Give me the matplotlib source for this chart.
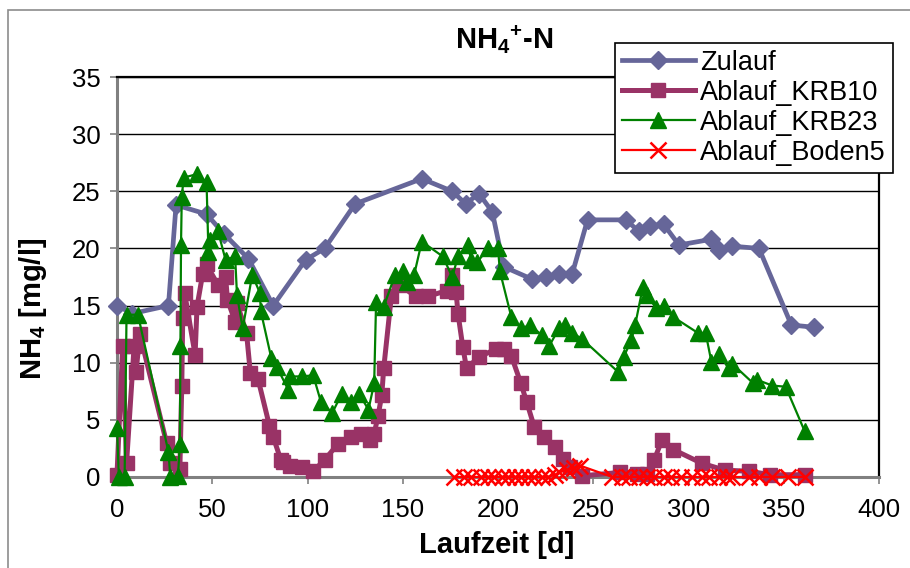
import matplotlib
matplotlib.use("Agg")
import matplotlib.pyplot as plt
from matplotlib.patches import Rectangle

plt.rcParams['font.family'] = ['Liberation Sans', 'DejaVu Sans']
plt.rcParams['mathtext.fontset'] = 'custom'
plt.rcParams['mathtext.rm'] = 'Liberation Sans'
plt.rcParams['mathtext.bf'] = 'Liberation Sans:bold'

# NH4-N over run time [d]
zulauf_t = [0, 8, 27, 31, 47, 56, 69, 82, 99, 109, 125, 160, 176, 183, 190, 197,
            203, 218, 225, 232, 239, 247, 267, 274, 280, 287, 295, 312, 316, 323,
            337, 354, 366]
zulauf_v = [15.0, 14.3, 15.0, 23.8, 23.0, 21.3, 19.1, 15.0, 19.0, 20.0, 23.9, 26.1,
            25.0, 23.9, 24.8, 23.2, 18.4, 17.3, 17.5, 17.8, 17.8, 22.5, 22.5, 21.5,
            22.0, 22.1, 20.3, 20.8, 19.9, 20.2, 20.0, 13.3, 13.1]

krb10_t = [0, 3, 5, 9, 10, 12, 26, 28, 33, 34, 34.5, 35.5, 41, 42, 45, 47, 53, 57,
           58, 62, 63, 68, 70, 74, 80, 82, 86, 87, 91, 97, 103, 109, 116, 123, 128,
           133, 135, 137, 139, 140, 144, 148, 157, 163, 173, 176, 178, 179, 181.5,
           183.5, 190, 199, 203, 207, 212, 215, 219, 224, 230, 234, 238, 244, 264,
           273, 278, 282, 286, 292, 307, 319, 332, 343, 361]
krb10_v = [0.2, 11.5, 1.2, 11.5, 9.2, 12.5, 3.0, 1.2, 0.7, 8.0, 13.9, 16.1, 10.7,
           14.9, 17.8, 18.6, 16.8, 17.5, 15.5, 13.6, 15.2, 12.6, 9.1, 8.6, 4.5, 3.5,
           1.5, 1.3, 1.0, 0.9, 0.5, 1.5, 2.9, 3.5, 3.8, 3.2, 3.8, 5.3, 7.2, 9.5, 15.8,
           16.8, 15.8, 15.8, 16.3, 17.7, 16.2, 14.3, 11.4, 9.5, 10.5, 11.2, 11.2,
           10.6, 8.2, 6.6, 4.4, 3.5, 2.6, 1.6, 0.9, 0.1, 0.4, 0.3, 0.3, 1.5, 3.2,
           2.4, 1.2, 0.6, 0.5, 0.2, 0.2]

krb23_t = [0, 1, 4, 5, 11, 27, 28, 32, 33, 33.3, 33.6, 34, 35, 42, 47, 48, 49, 53,
           57, 62, 63, 66, 71, 75, 75.5, 81, 84, 90, 91, 97, 103, 107, 113, 118, 123,
           127, 132, 135, 136, 140, 146, 150, 152, 156, 160, 171, 176, 179, 184, 186,
           189, 195, 200, 201, 207, 212, 217, 223, 227, 232, 235, 239, 244, 263, 266,
           270, 272, 276, 278, 283, 287, 292, 305, 309, 312, 316, 321, 323, 334, 336,
           344, 351, 361]
krb23_v = [4.3, 0.0, 0.0, 14.2, 14.2, 2.2, 0.0, 0.1, 2.9, 11.5, 20.3, 24.5, 26.2,
           26.5, 25.8, 19.7, 20.7, 21.5, 19.0, 19.3, 15.9, 13.0, 17.7, 16.1, 14.5,
           10.4, 9.6, 7.6, 8.8, 8.8, 8.9, 6.6, 5.6, 7.3, 6.6, 7.3, 5.9, 8.2, 15.3,
           14.9, 17.7, 18.0, 17.1, 17.7, 20.6, 19.3, 17.5, 19.3, 20.3, 19.0, 18.8,
           20.0, 20.0, 18.0, 14.0, 13.0, 13.3, 12.4, 11.5, 13.0, 13.3, 12.6, 12.1,
           9.2, 10.5, 12.0, 13.3, 16.6, 15.9, 14.8, 15.0, 14.0, 12.6, 12.6, 10.1,
           10.8, 9.5, 9.9, 8.2, 8.5, 8.0, 7.9, 4.0]

boden5_t = [177, 182, 186, 191, 195, 198, 202, 205, 209, 212, 216, 219, 223, 226,
            230, 232, 236, 240, 243, 260, 265, 269, 274, 278, 282, 287, 291, 296,
            302, 307, 311, 316, 320, 323, 332, 337, 344, 352, 361]
boden5_v = [0, 0, 0, 0, 0, 0, 0, 0, 0, 0, 0, 0, 0, 0, 0.2, 0.4, 0.6, 0.8, 1.0,
            0, 0, 0, 0, 0, 0, 0, 0, 0, 0, 0, 0, 0, 0, 0, 0, 0, 0, 0, 0]

fig = plt.figure(figsize=(9.1, 5.68), dpi=100)
fig.patches.append(Rectangle((8 / 910, -0.05), 1.2, 0.05 + 558 / 568,
                             transform=fig.transFigure, fill=False,
                             edgecolor='#8c8c8c', lw=1.2))

ax = fig.add_axes([117 / 910, 91 / 568, 762 / 910, 400 / 568])

ax.plot(zulauf_t, zulauf_v, color='#666699', lw=3.4, marker='D', ms=9,
        label='Zulauf', clip_on=False, zorder=3)
ax.plot(krb10_t, krb10_v, color='#993366', lw=3.6, marker='s', ms=9.5,
        label='Ablauf_KRB10', clip_on=False, zorder=4)
ax.plot(krb23_t, krb23_v, color='#008000', lw=1.6, marker='^', ms=11.5,
        label='Ablauf_KRB23', clip_on=False, zorder=5)
ax.plot(boden5_t, boden5_v, color='#ff0000', lw=1.6, marker='x', ms=12, mew=1.8,
        label='Ablauf_Boden5', clip_on=False, zorder=6)

ax.set_xlim(0, 400)
ax.set_ylim(0, 35)
ax.set_xticks(range(0, 401, 50))
ax.set_yticks(range(0, 36, 5))
ax.yaxis.grid(True, color='black', lw=1.0)
ax.set_axisbelow(True)

for side in ['top', 'right']:
    ax.spines[side].set_color('black')
    ax.spines[side].set_linewidth(1.6)
for side in ['left', 'bottom']:
    ax.spines[side].set_color('#808080')
    ax.spines[side].set_linewidth(2.2)

ax.tick_params(axis='both', labelsize=18.5, direction='out', length=5,
               color='#808080', width=1.2)
ax.tick_params(axis='y', pad=7)
ax.tick_params(axis='x', pad=10)

fig.text(504 / 910, 1 - 40 / 568, r'NH$_\mathbf{4}$$^\mathbf{+}$-N',
         fontsize=21, fontweight='bold', ha='center', va='center')
fig.text(497 / 910, 1 - 545 / 568, 'Laufzeit [d]',
         fontsize=21, fontweight='bold', ha='center', va='center')
fig.text(33 / 910, 1 - 309 / 568, r'NH$_\mathbf{4}$ [mg/l]', rotation=90,
         fontsize=21, fontweight='bold', ha='center', va='center')

leg = fig.legend(loc='upper left', bbox_to_anchor=(615 / 910, 1 - 43 / 568),
                 borderaxespad=0, fontsize=19.5, handlelength=2.7,
                 handletextpad=0.2, labelspacing=0.15, borderpad=0.25,
                 fancybox=False, framealpha=1, edgecolor='black')
leg.get_frame().set_linewidth(1.2)

fig.savefig('out.png', dpi=100)
